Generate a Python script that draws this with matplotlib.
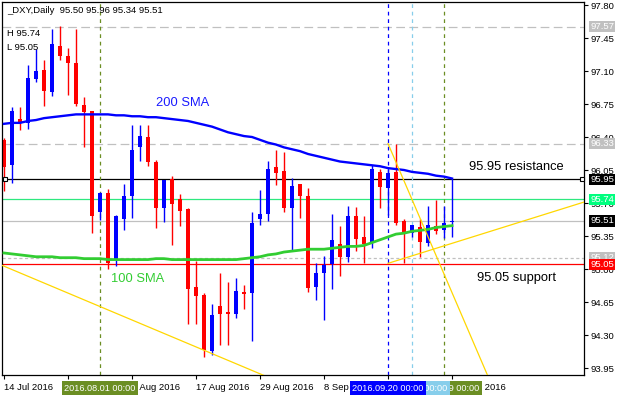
import matplotlib
matplotlib.use('Agg')
import matplotlib.pyplot as plt
import numpy as np
import pandas as pd

plt.rcParams['font.family'] = ['Liberation Sans', 'DejaVu Sans']

# daily OHLC of _DXY
opens = [96.37, 96.10, 96.59, 96.55, 97.02, 97.11, 96.88, 97.37, 97.26, 97.19,
         96.74, 96.68, 95.60, 95.81, 95.11, 95.53, 95.77, 96.29, 96.40, 96.13,
         95.65, 95.95, 95.74, 95.64, 94.81, 94.72, 94.13, 94.61, 94.54, 94.52,
         94.76, 94.75, 95.53, 95.58, 96.08, 96.04, 95.65, 95.90, 95.77, 94.81,
         94.96, 95.05, 95.27, 95.13, 95.56, 95.34, 95.28, 96.03, 95.86, 96.03,
         95.51, 95.38, 95.45, 95.28, 95.46, 95.41, 95.50]
highs = [96.39, 96.72, 96.72, 97.16, 97.33, 97.22, 97.55, 97.58, 97.34, 97.55,
         96.82, 96.68, 95.82, 95.85, 95.57, 95.90, 96.53, 96.53, 96.53, 96.16,
         95.94, 95.99, 95.80, 95.65, 95.08, 94.75, 94.63, 94.96, 94.86, 94.90,
         94.83, 95.60, 95.84, 96.15, 96.26, 96.24, 95.96, 95.90, 95.86, 95.06,
         95.14, 95.58, 95.46, 95.67, 95.66, 95.56, 96.10, 96.06, 96.06, 96.33,
         95.53, 95.47, 95.53, 95.67, 95.73, 95.67, 95.96]
lows = [95.83, 95.91, 96.47, 96.49, 96.98, 96.73, 96.83, 97.22, 96.85, 96.73,
        96.29, 95.38, 95.52, 95.00, 95.03, 95.41, 95.54, 96.15, 96.09, 95.44,
        95.50, 95.25, 95.46, 94.42, 94.42, 94.07, 94.09, 94.19, 94.19, 94.48,
        94.58, 94.24, 95.47, 95.51, 95.89, 95.60, 95.19, 95.54, 94.76, 94.67,
        94.46, 94.79, 94.93, 95.07, 95.19, 95.06, 95.22, 95.65, 95.57, 95.47,
        95.06, 95.34, 95.13, 95.24, 95.37, 95.33, 95.34]
closes = [96.08, 96.68, 96.55, 97.03, 97.10, 96.89, 97.39, 97.26, 97.19, 96.75,
          96.66, 95.56, 95.81, 95.06, 95.56, 95.77, 96.26, 96.41, 96.13, 95.65,
          95.94, 95.69, 95.62, 94.79, 94.71, 94.14, 94.51, 94.52, 94.52, 94.77,
          94.74, 95.49, 95.58, 96.06, 96.02, 95.65, 95.88, 95.77, 94.80, 94.96,
          95.04, 95.31, 95.13, 95.56, 95.32, 95.26, 96.06, 95.87, 96.02, 95.49,
          95.39, 95.47, 95.29, 95.47, 95.40, 95.49, 95.51]

sma200 = [96.54, 96.55, 96.55, 96.57, 96.58, 96.60, 96.61, 96.62, 96.63, 96.64,
          96.64, 96.64, 96.64, 96.64, 96.63, 96.63, 96.62, 96.62, 96.61, 96.61,
          96.60, 96.59, 96.58, 96.57, 96.55, 96.53, 96.51, 96.48, 96.45, 96.43,
          96.41, 96.40, 96.37, 96.34, 96.32, 96.29, 96.27, 96.25, 96.22, 96.20,
          96.18, 96.16, 96.14, 96.13, 96.12, 96.11, 96.10, 96.09, 96.07, 96.06,
          96.05, 96.03, 96.02, 96.01, 95.99, 95.98, 95.96]
sma100 = [95.17, 95.16, 95.15, 95.14, 95.13, 95.13, 95.13, 95.12, 95.12, 95.12,
          95.11, 95.11, 95.11, 95.10, 95.10, 95.10, 95.10, 95.10, 95.10, 95.11,
          95.11, 95.10, 95.10, 95.10, 95.10, 95.10, 95.10, 95.10, 95.10, 95.10,
          95.11, 95.12, 95.13, 95.15, 95.16, 95.18, 95.19, 95.20, 95.21, 95.21,
          95.21, 95.22, 95.23, 95.24, 95.24, 95.25, 95.28, 95.31, 95.34, 95.37,
          95.38, 95.40, 95.41, 95.42, 95.44, 95.45, 95.46]

dates = pd.bdate_range('2016-07-14', periods=len(closes))
date_ticks = [0, 8, 16, 24, 32, 40, 48, 56]
ytick_vals = [97.80, 97.45, 97.10, 96.75, 96.40, 96.05, 95.70, 95.35, 95.00, 94.65, 94.30, 93.95]

resistance = 95.95
support = 95.05
level_green = 95.74
bid = 95.51
dashed_levels = [97.57, 96.33]
dotted_level = 95.12

# vertical markers: bar index, colour
vmarks = [(12, '#6B8E23'), (55, '#6B8E23'), (51, '#87CEEB'), (48, '#0000FF')]

# trendlines as pairs of anchor points (bar, price)
trend_low = [(0, 95.03), (30, 93.96)]
trend_up = [(48, 95.06), (72.5, 95.71)]
trend_steep = [(48, 96.33), (60, 93.96)]

W, H = 624, 395
fig = plt.figure(figsize=(W / 100, H / 100), dpi=100)
L, R, T, B = 2, 584, 2, 375
ax = fig.add_axes([L / W, (H - B) / H, (R - L) / W, (B - T) / H])

ax.set_ylim(97.80 - (B - 5) / 94.29, 97.80 + (5 - T) / 94.29)
ax.set_xlim((L - 4) / 8, (R - 4) / 8)

idx = np.arange(len(closes))
o = np.array(opens); c = np.array(closes)
colors = np.where(c >= o, '#0000FF', '#FF0000')

# horizontal levels
ax.axhline(resistance, color='black', lw=0.9, zorder=1)
ax.axhline(support, color='#FF0000', lw=0.9, zorder=1)
ax.axhline(level_green, color='#2EE87F', lw=0.9, zorder=1)
ax.axhline(bid, color='#C0C0C0', lw=0.9, zorder=1)
for lv in dashed_levels:
    ax.axhline(lv, color='#C0C0C0', lw=0.9, ls=(0, (7, 3.5)), zorder=1)
ax.axhline(dotted_level, color='#C0C0C0', lw=0.9, ls=(0, (2.5, 2)), zorder=1)

for bx, col in vmarks:
    ax.axvline(bx, color=col, lw=0.9, ls=(0, (3, 3)), zorder=1)

# candles
ax.vlines(idx, lows, highs, colors=colors, lw=1, zorder=2)
body = np.maximum(np.abs(c - o), 0.012)
ax.bar(idx, body, bottom=np.minimum(o, c), width=0.6, color=colors, lw=0, zorder=2)

# moving averages
ax.plot(idx, sma200, color='#0000FF', lw=1.7, zorder=3)
ax.plot(idx, sma100, color='#32CD32', lw=2.0, zorder=3)

# trendlines
def draw_trend(pts, x0, x1):
    (xa, ya), (xb, yb) = pts
    k = (yb - ya) / (xb - xa)
    xs = np.array([x0, x1])
    ax.plot(xs, ya + k * (xs - xa), color='#FFD700', lw=0.9, zorder=4)

draw_trend(trend_low, -5, 40)
draw_trend(trend_up, 48, 80)
draw_trend(trend_steep, 48, 70)

# end squares of resistance line
ax.plot([0.006, 0.9966], [resistance, resistance], 's', ms=3.2, mfc='white', mec='black',
        mew=0.8, transform=ax.get_yaxis_transform(), clip_on=False, zorder=6)

# axes styling
for s in ax.spines.values():
    s.set_color('black')
    s.set_linewidth(0.9)
ax.yaxis.tick_right()
ax.set_yticks(ytick_vals)
ax.set_yticklabels(['%.2f' % v for v in ytick_vals])
ax.tick_params(axis='y', length=3, width=0.8, pad=1.5, labelsize=6.8, colors='black')
ax.set_xticks(date_ticks)
ax.set_xticklabels([dates[i].strftime('%-d %b %Y') for i in date_ticks], ha='left')
ax.tick_params(axis='x', length=3, width=0.8, pad=2.5, labelsize=6.8)

# price labels on the right scale
price_tags = [(97.57, '#C0C0C0'), (96.33, '#C0C0C0'), (95.12, '#C0C0C0'),
              (95.95, 'black'), (95.74, '#00FF7F'), (95.51, 'black'), (95.05, '#FF0000')]
ytr = ax.get_yaxis_transform()
for k, (p, bg) in enumerate(price_tags):
    ax.text(1.0105, p, '%.2f' % p, transform=ytr, ha='left', va='center', fontsize=6.8,
            color='white', clip_on=False, zorder=10 + k,
            bbox=dict(boxstyle='square,pad=0.12', fc=bg, ec='none'))

# date labels of vertical lines
xtr = ax.get_xaxis_transform()
for k, (bx, col) in enumerate(vmarks):
    ax.text(bx, (B - 388.5) / (B - T), dates[bx].strftime('%Y.%m.%d 00:00'), transform=xtr,
            ha='center', va='center', fontsize=6.6, color='white', clip_on=False,
            zorder=20 + k, bbox=dict(boxstyle='square,pad=0.3', fc=col, ec='none'))

# annotations
fig.text(156 / W, 1 - 103 / H, '200 SMA', fontsize=9.3, color='#1a1aff', va='center')
fig.text(111 / W, 1 - 279 / H, '100 SMA', fontsize=9.3, color='#32CD32', va='center')
fig.text(469 / W, 1 - 166.5 / H, '95.95 resistance', fontsize=9.3, color='black', va='center')
fig.text(477 / W, 1 - 277.5 / H, '95.05 support', fontsize=9.3, color='black', va='center')
fig.text(7 / W, 1 - 10.5 / H, '_DXY,Daily  %.2f %.2f %.2f %.2f' % (opens[-1], highs[-1], lows[-1], closes[-1]),
         fontsize=6.8, va='center')
fig.text(7 / W, 1 - 34 / H, 'H %.2f' % level_green, fontsize=6.8, va='center')
fig.text(7 / W, 1 - 47 / H, 'L %.2f' % support, fontsize=6.8, va='center')

fig.savefig('out.png', dpi=100)
